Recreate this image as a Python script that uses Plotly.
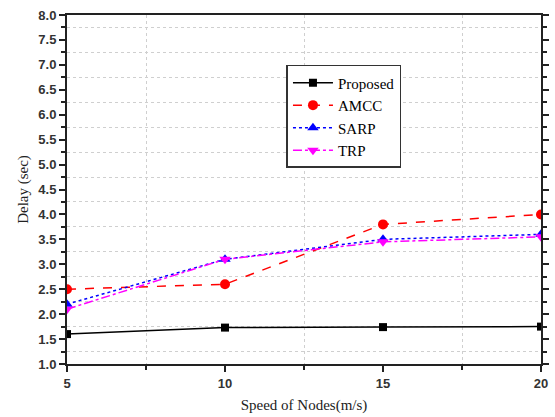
import plotly.graph_objects as go

speed = [5, 10, 15, 20]
proposed = [1.6, 1.73, 1.74, 1.75]
amcc = [2.5, 2.6, 3.8, 4.0]
sarp = [2.2, 3.1, 3.5, 3.6]
trp = [2.1, 3.1, 3.45, 3.55]

fig = go.Figure()
fig.add_trace(go.Scatter(x=speed, y=proposed, name="Proposed", mode="lines+markers",
                         line=dict(color="black", width=1.5),
                         marker=dict(symbol="square", size=8, color="black")))
fig.add_trace(go.Scatter(x=speed, y=amcc, name="AMCC", mode="lines+markers",
                         line=dict(color="red", width=1.5, dash="dash"),
                         marker=dict(symbol="circle", size=10, color="red")))
fig.add_trace(go.Scatter(x=speed, y=sarp, name="SARP", mode="lines+markers",
                         line=dict(color="blue", width=1.5, dash="dot"),
                         marker=dict(symbol="triangle-up", size=10, color="blue")))
fig.add_trace(go.Scatter(x=speed, y=trp, name="TRP", mode="lines+markers",
                         line=dict(color="magenta", width=1.5, dash="dashdot"),
                         marker=dict(symbol="triangle-down", size=10, color="magenta")))

tickfont = dict(family="Liberation Sans", size=13, color="#333333")
fig.update_layout(
    width=555, height=417,
    margin=dict(l=67, r=14, t=15, b=53, autoexpand=False),
    paper_bgcolor="white", plot_bgcolor="white",
    font=dict(family="Liberation Serif", size=13, color="#222"),
    showlegend=True,
    legend=dict(x=0.463, y=0.857, xanchor="left", yanchor="top",
                bordercolor="#333", borderwidth=1.5, bgcolor="white",
                font=dict(family="Liberation Serif", size=15, color="black"),
                tracegroupgap=0, itemwidth=40),
)
fig.update_xaxes(
    range=[5, 20], tickvals=[5, 10, 15, 20], ticktext=["<b>5</b>", "<b>10</b>", "<b>15</b>", "<b>20</b>"],
    tickfont=tickfont, ticks="outside", ticklen=6, tickwidth=1.5, tickcolor="#222",
    showline=True, linecolor="#222", linewidth=2, mirror=True, automargin=False,
    showgrid=False, zeroline=False,
    minor=dict(tickvals=[7.5, 12.5, 17.5], ticks="outside", ticklen=4, tickcolor="#222",
               showgrid=True, gridcolor="#cfcfcf", griddash="dot", gridwidth=1),
    title=dict(text="Speed of Nodes(m/s)", font=dict(family="Liberation Serif", size=15, color="#222"), standoff=10),
)
yt = [1.0 + 0.5 * i for i in range(15)]
fig.update_yaxes(
    range=[1, 8], tickvals=yt, ticktext=["<b>%.1f</b>" % v for v in yt],
    tickfont=tickfont, ticks="outside", ticklen=6, tickwidth=1.5, tickcolor="#222",
    showline=True, linecolor="#222", linewidth=2, mirror="ticks", automargin=False,
    showgrid=False, zeroline=False,
    minor=dict(tickvals=[1.25 + 0.5 * i for i in range(14)], ticks="outside", ticklen=4, tickcolor="#222",
               showgrid=True, gridcolor="#cfcfcf", griddash="dot", gridwidth=1),
    title=dict(text="Delay (sec)", font=dict(family="Liberation Serif", size=15, color="#222"), standoff=6),
)
fig.write_html("out.html")
